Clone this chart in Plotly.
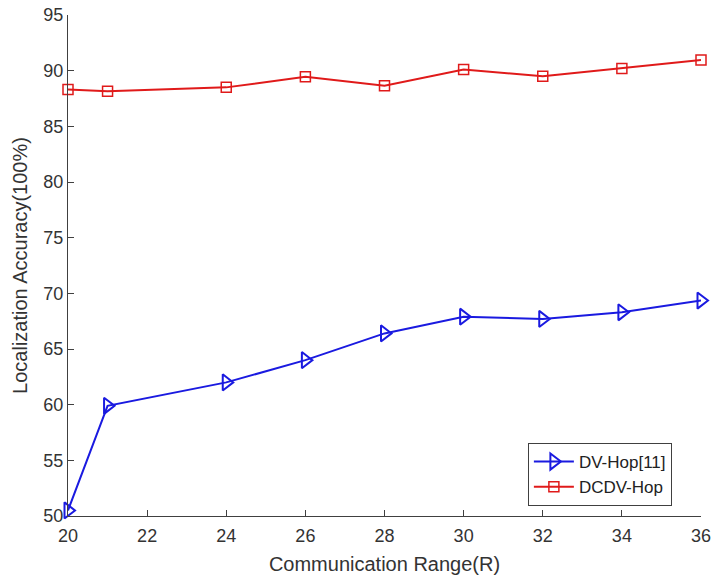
import plotly.graph_objects as go

comm_range = [20, 21, 24, 26, 28, 30, 32, 34, 36]
dv_hop = [50.5, 59.9, 62.0, 64.0, 66.4, 67.9, 67.7, 68.3, 69.35]
dcdv_hop = [88.3, 88.15, 88.5, 89.45, 88.65, 90.1, 89.5, 90.2, 90.95]
x_ticks = [20, 22, 24, 26, 28, 30, 32, 34, 36]
y_ticks = [50, 55, 60, 65, 70, 75, 80, 85, 90, 95]

FONT = "Liberation Sans, Arial, sans-serif"

fig = go.Figure()
fig.add_trace(go.Scatter(
    x=comm_range, y=dv_hop, mode="lines+markers", name="DV-Hop[11]",
    line=dict(color="#1a1ae0", width=2),
    marker=dict(symbol="triangle-right-open", size=14, color="#1a1ae0",
                line=dict(width=2, color="#1a1ae0")),
    cliponaxis=False,
))
fig.add_trace(go.Scatter(
    x=comm_range, y=dcdv_hop, mode="lines+markers", name="DCDV-Hop",
    line=dict(color="#e01a1a", width=2),
    marker=dict(symbol="square-open", size=10, color="#e01a1a",
                line=dict(width=1.5, color="#e01a1a")),
    cliponaxis=False,
))

axis_common = dict(
    showgrid=False, zeroline=False, showline=True, linecolor="#404040",
    linewidth=1, ticks="inside", ticklen=6, tickcolor="#404040",
    tickfont=dict(family=FONT, size=18, color="#333333"),
    mirror=False, automargin=False,
)
fig.update_xaxes(range=[20, 36], tickvals=x_ticks, ticklabelstandoff=3,
                 title=dict(text="Communication Range(R)",
                            font=dict(family=FONT, size=20, color="#333333"),
                            standoff=12),
                 **axis_common)
fig.update_yaxes(range=[50, 95], tickvals=y_ticks,
                 title=dict(text="Localization Accuracy(100%)",
                            font=dict(family=FONT, size=20, color="#333333"),
                            standoff=10),
                 **axis_common)

fig.update_layout(
    width=713, height=578,
    margin=dict(l=68, r=12, t=15, b=62),
    plot_bgcolor="white", paper_bgcolor="white",
    legend=dict(x=0.954, y=0.02, xanchor="right", yanchor="bottom",
                bgcolor="white", bordercolor="#404040", borderwidth=1,
                font=dict(family=FONT, size=17, color="#222222"),
                tracegroupgap=0, itemwidth=40),
    showlegend=True,
)

fig.write_html("out.html", config={"displayModeBar": False},
               post_script="document.body.style.margin='0px';")
